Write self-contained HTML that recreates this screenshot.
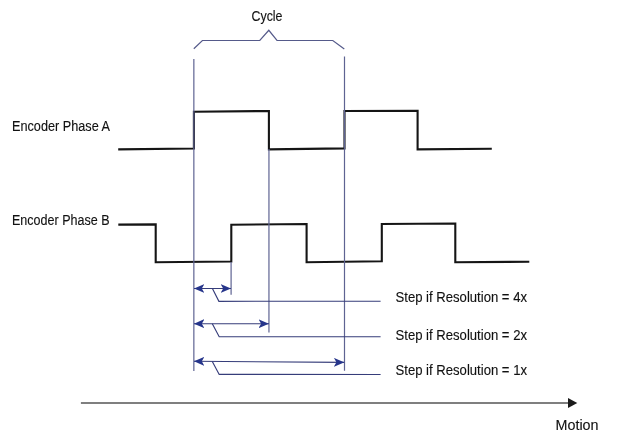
<!DOCTYPE html>
<html><head><meta charset="utf-8">
<style>
html,body{margin:0;padding:0;background:#fff;width:622px;height:444px;overflow:hidden}
svg{display:block;will-change:transform}
text{font-family:"Liberation Sans",sans-serif;font-size:13.8px;fill:#111;stroke:#111;stroke-width:0.12px}
</style></head>
<body>
<svg width="622" height="444" viewBox="0 0 622 444">
<defs>
<marker id="ah" viewBox="0 0 10.4 9" refX="10.4" refY="4.5" markerWidth="10.4" markerHeight="9" markerUnits="userSpaceOnUse" orient="auto-start-reverse">
<path d="M10.4 4.5 L0 0 L2.6 4.5 L0 9 Z" fill="#26358b"/>
</marker>
</defs>
<!-- labels -->
<text x="12" y="131" textLength="98" lengthAdjust="spacingAndGlyphs">Encoder Phase A</text>
<text x="12" y="225" textLength="97.5" lengthAdjust="spacingAndGlyphs">Encoder Phase B</text>
<text x="251.5" y="21" textLength="31" lengthAdjust="spacingAndGlyphs">Cycle</text>
<text x="395.5" y="302" textLength="131.5" lengthAdjust="spacingAndGlyphs">Step if Resolution = 4x</text>
<text x="395.5" y="340" textLength="131.5" lengthAdjust="spacingAndGlyphs">Step if Resolution = 2x</text>
<text x="395.5" y="375" textLength="131.5" lengthAdjust="spacingAndGlyphs">Step if Resolution = 1x</text>
<text x="555.5" y="430" textLength="43" lengthAdjust="spacingAndGlyphs">Motion</text>

<!-- waveforms -->
<path d="M118.2 149.4 L193.9 148.5 L193.9 111.7 L268.9 111 L268.9 149.4 L344.5 148.4 L344.5 111 L417.6 110.7 L417.6 149.4 L491.8 148.7" fill="none" stroke="#151515" stroke-width="2.1" stroke-linejoin="miter"/>
<path d="M118.3 224.6 L155.7 224.4 L155.7 262.2 L231.3 261.5 L231.3 224.7 L306.6 224 L306.6 262.2 L381.8 261.3 L381.8 224 L455.3 223.5 L455.3 262.2 L529.3 261.7" fill="none" stroke="#151515" stroke-width="2.1" stroke-linejoin="miter"/>

<!-- brace -->
<path d="M193.8 48.8 L202.4 40.5 L259.8 40.5 L268.8 30.3 L277 40.5 L332.8 40.5 L344.3 49.1" fill="none" stroke="#555a8a" stroke-width="1.2"/>

<!-- blue verticals -->
<g stroke="#5e6392" stroke-width="1.2" fill="none">
<line x1="193.85" y1="59" x2="193.85" y2="371"/>
<line x1="268.95" y1="149" x2="268.95" y2="332.5"/>
<line x1="344.5" y1="56.4" x2="344.5" y2="370.7"/>
<line x1="231.1" y1="262" x2="231.1" y2="294.8"/>
</g>

<!-- arrows -->
<g stroke="#363d7a" stroke-width="1.15" fill="none">
<line x1="194" y1="288.5" x2="231" y2="288.5" marker-start="url(#ah)" marker-end="url(#ah)"/>
<line x1="194" y1="323.7" x2="268.9" y2="323.7" marker-start="url(#ah)" marker-end="url(#ah)"/>
<line x1="194" y1="361.3" x2="344.2" y2="362.4" marker-start="url(#ah)" marker-end="url(#ah)"/>
</g>
<!-- leaders -->
<g stroke="#363d7a" stroke-width="1.15" fill="none">
<path d="M212.4 288.5 L218.9 301.3 L380.6 301.2"/>
<path d="M212.3 323.7 L219.2 336.7 L380.6 336.7"/>
<path d="M212.3 361.4 L219.2 374.4 L380.6 374.5"/>
</g>

<!-- motion arrow -->
<line x1="80.9" y1="403" x2="569" y2="403" stroke="#555" stroke-width="1.6"/>
<path d="M577.3 403 L568 397.9 L568 408.1 Z" fill="#1a1a1a"/>
</svg>
</body></html>
